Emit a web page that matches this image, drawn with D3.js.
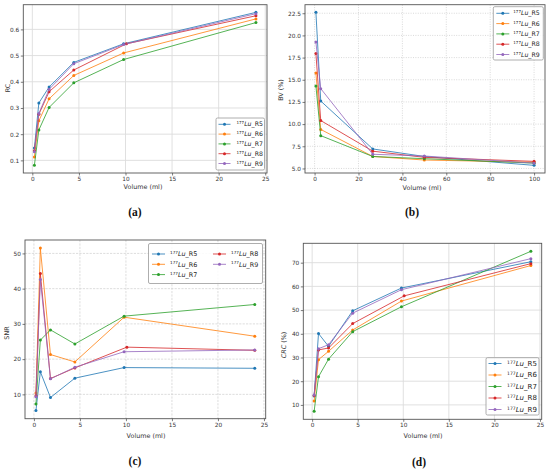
<!DOCTYPE html>
<html>
<head>
<meta charset="utf-8">
<script src="https://cdn.jsdelivr.net/npm/d3@7"></script>
<style>
  body { margin: 0; background: #fff; }
  svg { display: block; }
  .tick text { font-family: "DejaVu Sans", sans-serif; fill: #333; }
  .tick line { stroke: #444; stroke-width: 0.7; }
</style>
</head>
<body>
<div id="chart"></div>
<script>
// series names (177Lu_R5 ... R9) and tab10 colours
const seriesNames = ["R5", "R6", "R7", "R8", "R9"];
const seriesColors = ["#1f77b4", "#ff7f0e", "#2ca02c", "#d62728", "#9467bd"];

// volumes (ml) for panels a, c, d; R8 fifth point sits a bit right
const volumes = [0.22, 0.7, 1.8, 4.45, 9.8, 24];
const volumesR8 = [0.22, 0.7, 1.8, 4.45, 10.1, 24];
// volumes (ml) for panel b
const volumesBV = [0.6, 2.8, 26.5, 50, 100];

// (a) RC
const rcR5 = [0.147, 0.319, 0.380, 0.474, 0.545, 0.665];
const rcR6 = [0.113, 0.251, 0.335, 0.424, 0.510, 0.640];
const rcR7 = [0.081, 0.216, 0.302, 0.396, 0.485, 0.626];
const rcR8 = [0.137, 0.276, 0.362, 0.445, 0.545, 0.652];
const rcR9 = [0.133, 0.279, 0.371, 0.469, 0.542, 0.660];

// (b) BV (%)
const bvR5 = [22.6, 12.6, 7.2, 6.35, 5.35];
const bvR6 = [15.75, 9.4, 6.35, 5.95, 5.7];
const bvR7 = [14.3, 8.7, 6.35, 6.1, 5.6];
const bvR8 = [17.95, 10.4, 6.95, 6.25, 5.8];
const bvR9 = [19.25, 14.0, 6.6, 6.4, 5.6];

// (c) SNR
const snrR5 = [5.4, 16.4, 9.1, 14.6, 17.6, 17.4];
const snrR6 = [10.4, 51.5, 21.3, 19.2, 31.9, 26.5];
const snrR7 = [7.3, 25.4, 28.3, 24.3, 32.2, 35.5];
const snrR8 = [9.6, 44.3, 14.5, 17.5, 23.4, 22.5];
const snrR9 = [9.3, 42.6, 14.4, 17.7, 22.1, 22.6];

// (d) CRC (%)
const crcR5 = [13.8, 40.1, 34.7, 49.7, 59.3, 70.4];
const crcR6 = [11.6, 29.1, 32.6, 41.6, 53.8, 68.8];
const crcR7 = [7.3, 21.9, 29.3, 40.9, 51.4, 74.8];
const crcR8 = [14.0, 33.2, 34.0, 44.3, 56.0, 69.6];
const crcR9 = [14.2, 33.7, 35.4, 48.7, 58.6, 71.7];

// tick labels
const xTicksVol = [0, 5, 10, 15, 20, 25];
const xTicksBV = [0, 20, 40, 60, 80, 100];
const yTicksRC = [0.1, 0.2, 0.3, 0.4, 0.5, 0.6];
const yTicksBV = [5.0, 7.5, 10.0, 12.5, 15.0, 17.5, 20.0, 22.5];
const yTicksSNR = [10, 20, 30, 40, 50];
const yTicksCRC = [10, 20, 30, 40, 50, 60, 70];

const width = 550, height = 471;
const svg = d3.select("#chart").append("svg")
    .attr("width", width)
    .attr("height", height)
    .attr("font-family", "DejaVu Sans");

function pairUp(xs, ys) {
    return ys.map((y, i) => ({ x: xs[i], y }));
}

// matplotlib style 5% padding on both sides
function padded(vals) {
    const [lo, hi] = d3.extent(vals);
    const m = (hi - lo) * 0.05;
    return [lo - m, hi + m];
}

function drawPanel(p) {
    const g = svg.append("g").attr("class", "panel-" + p.tag);
    const allX = p.series.flatMap(s => s.values.map(d => d.x));
    const allY = p.series.flatMap(s => s.values.map(d => d.y));

    const x = d3.scaleLinear().domain(padded(allX)).range([p.left, p.right]);
    const y = d3.scaleLinear().domain(padded(allY)).range([p.bottom, p.top]);

    // grid
    const grid = g.append("g").attr("class", "grid");
    grid.selectAll(".gx").data(p.xTicks).join("line")
        .attr("class", "gx")
        .attr("x1", d => x(d)).attr("x2", d => x(d))
        .attr("y1", p.top).attr("y2", p.bottom);
    grid.selectAll(".gy").data(p.yTicks).join("line")
        .attr("class", "gy")
        .attr("y1", d => y(d)).attr("y2", d => y(d))
        .attr("x1", p.left).attr("x2", p.right);
    grid.selectAll("line")
        .attr("stroke", p.gridColor)
        .attr("stroke-width", p.gridWidth)
        .attr("stroke-dasharray", p.gridDash);

    // lines + markers
    const line = d3.line().x(d => x(d.x)).y(d => y(d.y));
    p.series.forEach((s, i) => {
        g.append("path")
            .datum(s.values)
            .attr("d", line)
            .attr("fill", "none")
            .attr("stroke", seriesColors[i])
            .attr("stroke-opacity", 0.8)
            .attr("stroke-width", 1);
        g.selectAll(".pt-" + i).data(s.values).join("circle")
            .attr("class", "pt-" + i)
            .attr("cx", d => x(d.x))
            .attr("cy", d => y(d.y))
            .attr("r", 1.5)
            .attr("fill", seriesColors[i]);
    });

    // frame
    g.append("rect")
        .attr("x", p.left).attr("y", p.top)
        .attr("width", p.right - p.left).attr("height", p.bottom - p.top)
        .attr("fill", "none").attr("stroke", "#555").attr("stroke-width", 0.9);

    // axes
    const xa = g.append("g")
        .attr("transform", `translate(0,${p.bottom})`)
        .call(d3.axisBottom(x).tickValues(p.xTicks).tickSize(2.5).tickPadding(1.5).tickFormat(p.xFmt));
    const ya = g.append("g")
        .attr("transform", `translate(${p.left},0)`)
        .call(d3.axisLeft(y).tickValues(p.yTicks).tickSize(2.5).tickPadding(1.5).tickFormat(p.yFmt));
    [xa, ya].forEach(a => {
        a.select(".domain").remove();
        a.selectAll("text").attr("font-size", 5.8);
    });

    // axis titles
    g.append("text")
        .attr("x", p.xLabelX).attr("y", p.xLabelY)
        .attr("text-anchor", "middle")
        .attr("font-size", 6.4).attr("fill", "#333")
        .text("Volume (ml)");
    const yl = g.append("text")
        .attr("transform", `translate(${p.yLabelX},${p.yLabelY}) rotate(-90)`)
        .attr("text-anchor", "middle")
        .attr("font-size", 6.4).attr("fill", "#333");
    if (p.yItalic) {
        yl.append("tspan").attr("font-style", "italic").text(p.yItalic);
    }
    yl.append("tspan").text(p.yLabel);

    // panel label
    g.append("text")
        .attr("x", p.capX).attr("y", p.capY)
        .attr("text-anchor", "middle")
        .attr("font-family", "Liberation Serif")
        .attr("font-weight", "bold")
        .attr("font-size", 11.5)
        .attr("fill", "#111")
        .text(`(${p.tag})`);

    // legend
    const L = p.legend;
    const lg = g.append("g").attr("class", "legend");
    lg.append("rect")
        .attr("x", L.x).attr("y", L.y).attr("width", L.w).attr("height", L.h)
        .attr("rx", 1.5)
        .attr("fill", "#fff").attr("fill-opacity", 0.85)
        .attr("stroke", "#999").attr("stroke-width", 0.8);
    const items = lg.selectAll(".item").data(seriesNames).join("g")
        .attr("class", "item")
        .attr("transform", (d, i) => {
            const col = Math.floor(i / L.perCol), row = i % L.perCol;
            return `translate(${L.x + L.padX + col * L.colW},${L.y + L.firstRow + row * L.rowH})`;
        });
    items.append("line")
        .attr("x1", 0).attr("x2", L.lineLen)
        .attr("stroke", (d, i) => seriesColors[i])
        .attr("stroke-opacity", 0.8)
        .attr("stroke-width", 1);
    items.append("circle")
        .attr("cx", L.lineLen / 2).attr("r", 1.5)
        .attr("fill", (d, i) => seriesColors[i]);
    const t = items.append("text")
        .attr("x", L.lineLen + L.gap)
        .attr("y", L.fs * 0.35)
        .attr("font-size", L.fs)
        .attr("fill", "#222");
    t.append("tspan").attr("font-size", L.fs * 0.65).attr("dy", -L.fs * 0.35).text("177");
    t.append("tspan").attr("font-style", "italic").attr("dy", L.fs * 0.35).text("Lu");
    t.append("tspan").text(d => "_" + d);
}

const fmtInt = d3.format("d");

drawPanel({
    tag: "a",
    left: 23.3, right: 267, top: 4.7, bottom: 173,
    series: [rcR5, rcR6, rcR7, rcR8, rcR9].map((v, i) => ({ values: pairUp(i === 3 ? volumesR8 : volumes, v) })),
    xTicks: xTicksVol, yTicks: yTicksRC, xFmt: fmtInt, yFmt: d3.format(".1f"),
    gridColor: "#dcdcdc", gridWidth: 0.9, gridDash: null,
    xLabelX: 143, xLabelY: 189, yLabelX: 10, yLabelY: 88, yLabel: "RC",
    capX: 135, capY: 216,
    legend: { x: 216, y: 118, w: 48.5, h: 52, padX: 2.5, firstRow: 6.3, rowH: 9.8, perCol: 5, colW: 0, lineLen: 12, gap: 6, fs: 6.2 }
});

drawPanel({
    tag: "b",
    left: 305, right: 545, top: 4.7, bottom: 173,
    series: [bvR5, bvR6, bvR7, bvR8, bvR9].map(v => ({ values: pairUp(volumesBV, v) })),
    xTicks: xTicksBV, yTicks: yTicksBV, xFmt: fmtInt, yFmt: d3.format(".1f"),
    gridColor: "#c8c8c8", gridWidth: 0.7, gridDash: "1,1.4",
    xLabelX: 422, xLabelY: 190, yLabelX: 283, yLabelY: 90, yLabel: "BV (%)",
    capX: 412, capY: 216,
    legend: { x: 493.3, y: 6.7, w: 50, h: 53.3, padX: 3, firstRow: 6.6, rowH: 10.3, perCol: 5, colW: 0, lineLen: 13, gap: 4, fs: 6.2 }
});

drawPanel({
    tag: "c",
    left: 25, right: 265.7, top: 240, bottom: 418.7,
    series: [snrR5, snrR6, snrR7, snrR8, snrR9].map((v, i) => ({ values: pairUp(i === 3 ? volumesR8 : volumes, v) })),
    xTicks: xTicksVol, yTicks: yTicksSNR, xFmt: fmtInt, yFmt: fmtInt,
    gridColor: "#cfcfcf", gridWidth: 0.7, gridDash: "2.2,1.2",
    xLabelX: 146, xLabelY: 438, yLabelX: 9, yLabelY: 333, yLabel: "SNR",
    capX: 135, capY: 465,
    legend: { x: 148.5, y: 243.5, w: 114, h: 40, padX: 3.5, firstRow: 10.5, rowH: 10.3, perCol: 3, colW: 61, lineLen: 13, gap: 5, fs: 6.4 }
});

drawPanel({
    tag: "d",
    left: 303.3, right: 541.7, top: 243.3, bottom: 419.3,
    series: [crcR5, crcR6, crcR7, crcR8, crcR9].map((v, i) => ({ values: pairUp(i === 3 ? volumesR8 : volumes, v) })),
    xTicks: xTicksVol, yTicks: yTicksCRC, xFmt: fmtInt, yFmt: fmtInt,
    gridColor: "#dcdcdc", gridWidth: 0.9, gridDash: null,
    xLabelX: 423, xLabelY: 438, yLabelX: 286, yLabelY: 345, yItalic: "CRC", yLabel: " (%)",
    capX: 419, capY: 466,
    legend: { x: 486, y: 357.7, w: 53, h: 57.3, padX: 2.5, firstRow: 5.8, rowH: 11.5, perCol: 5, colW: 0, lineLen: 13, gap: 5.5, fs: 7 }
});
</script>
</body>
</html>
